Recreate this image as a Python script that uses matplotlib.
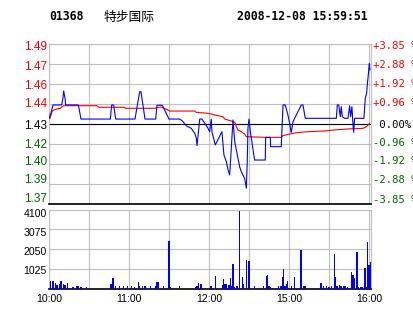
import matplotlib
matplotlib.use("Agg")
import matplotlib.pyplot as plt
from matplotlib.ticker import FixedLocator
from matplotlib.transforms import ScaledTranslation

# ---------------- data ----------------
code = "01368"
name = "特步国际"
stamp = "2008-12-08 15:59:51"
prev_close = 1.43
pct_span = 3.85

price_labels_left = ["1.49", "1.47", "1.46", "1.44", "1.43", "1.42", "1.40", "1.39", "1.37"]
pct_labels_right = ["+3.85 %", "+2.88 %", "+1.92 %", "+0.96 %", " 0.00%",
                    "-0.96 %", "-1.92 %", "-2.88 %", "-3.85 %"]
time_ticks = [0, 60, 120, 180, 240]
time_labels = ["10:00", "11:00", "12:00", "15:00", "16:00"]
vol_ticks = [1025, 2050, 3075, 4100]
vol_tick_labels = ["1025", "2050", "3075", "4100"]

# price line (minutes since open, price)
t_price = [0, 1.5, 3, 9.5, 10.5, 11, 12, 12.5, 22, 24, 46, 47, 48.5, 50, 64.5, 68, 69, 72,
           80, 81, 85, 90, 98, 100, 103, 106.7, 109.3, 110.5, 111, 112, 113, 114.7, 119.3,
           120.5, 121.7, 122.2, 124.7, 129.7, 131.2, 133, 134.3, 135.5, 138, 139.3, 143,
           144.2, 146.7, 148, 148.7, 149.2, 150, 151, 152.5, 154.2, 162.2, 162.5, 166,
           166.2, 174.2, 175.5, 177.2, 179.2, 180.5, 181.3, 181.7, 183, 189.2, 190.5, 192.2,
           215.5, 216.2, 217.3, 218.5, 219.2, 220, 221.7, 224.2, 225.5, 226.2, 227.2, 228,
           228.5, 229.2, 236.2, 236.7, 237.2, 238.2, 238.7, 239.7, 240.2, 240.7]
price = [1.4339, 1.4376, 1.4431, 1.4431, 1.4480, 1.4527, 1.4480, 1.4431, 1.4431, 1.4334,
         1.4334, 1.4431, 1.4431, 1.4334, 1.4334, 1.4522, 1.4522, 1.4334, 1.4334, 1.4429,
         1.4429, 1.4334, 1.4334, 1.4321, 1.4288, 1.4270, 1.4236, 1.4202, 1.4151, 1.4236,
         1.4334, 1.4334, 1.4270, 1.4247, 1.4334, 1.4247, 1.4156, 1.4247, 1.4087, 1.4041,
         1.3984, 1.3949, 1.4328, 1.4178, 1.4006, 1.3972, 1.3926, 1.3858, 1.4041, 1.4270,
         1.4334, 1.4247, 1.4156, 1.4052, 1.4052, 1.4208, 1.4208, 1.4144, 1.4144, 1.4431,
         1.4431, 1.4362, 1.4305, 1.4259, 1.4243, 1.4316, 1.4431, 1.4431, 1.4339, 1.4339,
         1.4431, 1.4431, 1.4350, 1.4419, 1.4350, 1.4339, 1.4339, 1.4426, 1.4350, 1.4419,
         1.4293, 1.4243, 1.4339, 1.4339, 1.4408, 1.4477, 1.4511, 1.4568, 1.4660, 1.4718,
         1.4672]

# average price line
t_avg = [0.75, 2.25, 3.5, 6, 8.5, 10.5, 12.2, 36, 37.3, 56.8, 57.2, 79.5, 80.5, 84.2, 89.2,
         90.5, 109.3, 110.5, 119.2, 124.2, 130.5, 131.8, 136.7, 139.3, 140.5, 141.7, 144.2,
         146.8, 148, 163, 174.2, 175.5, 179.2, 185.5, 194.2, 206.7, 214.2, 224.2, 235.5,
         238, 240.5]
avg = [1.4339, 1.4385, 1.4396, 1.4403, 1.4408, 1.4424, 1.4426, 1.4426, 1.4415, 1.4415,
       1.4408, 1.4408, 1.4412, 1.4417, 1.4396, 1.4389, 1.4389, 1.4380, 1.4374, 1.4362,
       1.4350, 1.4334, 1.4321, 1.4312, 1.4281, 1.4259, 1.4247, 1.4229, 1.4213, 1.4208,
       1.4208, 1.4220, 1.4228, 1.4240, 1.4247, 1.4252, 1.4259, 1.4266, 1.4270, 1.4281,
       1.4305]

# volume bars
vol_min = [1, 3, 5, 6, 8, 9, 11, 12, 14, 18, 21, 22, 24, 28, 46, 47, 48, 50, 53, 56, 59, 62,
           64, 67, 68, 70, 72, 76, 80, 81, 82, 86, 90, 91, 98, 110, 111, 112, 114, 121, 122,
           125, 130, 131, 132, 133, 135, 136, 137, 138, 139, 141, 143, 145, 146, 148, 150,
           154, 161, 163, 164, 165, 166, 172, 174, 175, 176, 177, 178, 179, 182, 184, 189,
           191, 192, 204, 206, 208, 210, 212, 214, 215, 216, 218, 219, 221, 222, 224, 227,
           228, 229, 231, 232, 234, 235, 237, 238, 239, 240, 241]
vol = [415, 415, 280, 175, 225, 365, 225, 175, 270, 90, 140, 140, 90, 90, 240, 240, 560, 140,
       140, 140, 140, 140, 90, 350, 140, 140, 140, 140, 140, 350, 350, 140, 2440, 90, 140, 90,
       140, 300, 240, 140, 140, 660, 190, 505, 210, 245, 190, 560, 140, 1290, 90, 140, 4010,
       610, 245, 1500, 1445, 140, 140, 660, 715, 140, 90, 140, 140, 610, 1030, 140, 245, 400,
       140, 610, 2020, 140, 140, 295, 140, 140, 90, 140, 1810, 610, 140, 190, 140, 140, 140,
       90, 870, 715, 560, 1915, 90, 90, 90, 1080, 90, 2405, 1240, 1395]

# ---------------- styling ----------------
W, H = 414, 314
GRID = "#c0c0c0"
RED = "#ff0000"
GREEN = "#006600"
SANS = ["Liberation Sans", "DejaVu Sans"]
MONO = ["DejaVu Sans Mono"]

fig = plt.figure(figsize=(W / 100, H / 100), dpi=100)
fig.patch.set_facecolor("white")

x_left, x_right = 49, 371
ax = fig.add_axes([x_left / W, (H - 204) / H, (x_right - x_left) / W, 160 / H])
axv = fig.add_axes([x_left / W, (H - 288.5) / H, (x_right - x_left) / W, 79 / H])

xmax = 241.5
levels = [prev_close * (1 + pct_span / 100 * k / 4) for k in range(4, -5, -1)]
ymin, ymax = levels[-1], levels[0]


def shift_labels(labels, offsets_px):
    for lab, dy in zip(labels, offsets_px):
        lab.set_transform(lab.get_transform() + ScaledTranslation(0, dy / 100, fig.dpi_scale_trans))


for a in (ax, axv):
    a.set_xlim(0, xmax)
    a.xaxis.set_minor_locator(FixedLocator([30, 90, 150, 210]))
    a.set_xticks(time_ticks)
    a.grid(True, which="both", axis="x", color=GRID, lw=0.8)
    a.grid(True, which="major", axis="y", color=GRID, lw=0.8)
    a.set_axisbelow(True)
    for s in ("left", "right", "top"):
        a.spines[s].set_color(GRID)
        a.spines[s].set_linewidth(0.8)
    a.spines["bottom"].set_color("black")
    a.spines["bottom"].set_linewidth(1.2)
    a.tick_params(which="both", length=0)

# price panel
ax.set_ylim(ymin, ymax)
ax.set_yticks(levels)
ax.set_yticklabels(price_labels_left, fontsize=8.5, family=SANS)
ax.tick_params(axis="y", pad=1.5)
for i, lab in enumerate(ax.get_yticklabels()):
    lab.set_color(RED if i < 4 else ("black" if i == 4 else GREEN))
shift_labels(ax.get_yticklabels(), [-1.5, -1, -0.2, 1, -0.5, 0, 3, 5, 6.5])
ax.set_xticklabels([])
ax.axhline(prev_close, color="black", lw=0.8, zorder=2)
ax.plot(t_avg, avg, color=RED, lw=0.8, zorder=3)
ax.plot(t_price, price, color="#0000ff", lw=0.8, zorder=4)

ax2 = ax.twinx()
ax2.set_ylim(ymin, ymax)
ax2.set_yticks(levels)
ax2.set_yticklabels(pct_labels_right, fontsize=7.6, family=MONO)
ax2.tick_params(axis="y", length=0, pad=1.2)
for i, lab in enumerate(ax2.get_yticklabels()):
    lab.set_color(RED if i < 4 else ("black" if i == 4 else GREEN))
shift_labels(ax2.get_yticklabels(), [-0.7, 0.3, 1, 2, -0.3, 2, 3.7, 4.7, 5.3])
for s in ax2.spines.values():
    s.set_visible(False)

# volume panel
axv.set_ylim(0, 4100)
axv.set_yticks(vol_ticks)
axv.set_yticklabels(vol_tick_labels, fontsize=7.6, family=SANS)
axv.tick_params(axis="y", pad=1.5)
shift_labels(axv.get_yticklabels(), [-1.6, -2, -2.7, -3.8])
axv.set_xticklabels(time_labels, fontsize=7.6, family=SANS)
axv.tick_params(axis="x", pad=4)
axv.bar(vol_min, vol, width=0.8, color="#0000ff", linewidth=0, antialiased=False, zorder=3)

# header
yh = 1 - 17 / H
fig.text(49 / W, yh, code, fontsize=8.3, family=MONO, weight="bold", va="center")
fig.text(104 / W, yh, name, fontsize=9.2, family=["Noto Sans CJK SC", "DejaVu Sans"], va="center")
fig.text(237 / W, yh, stamp, fontsize=8.3, family=MONO, weight="bold", va="center")

fig.savefig("out.png", dpi=100, facecolor="white")
